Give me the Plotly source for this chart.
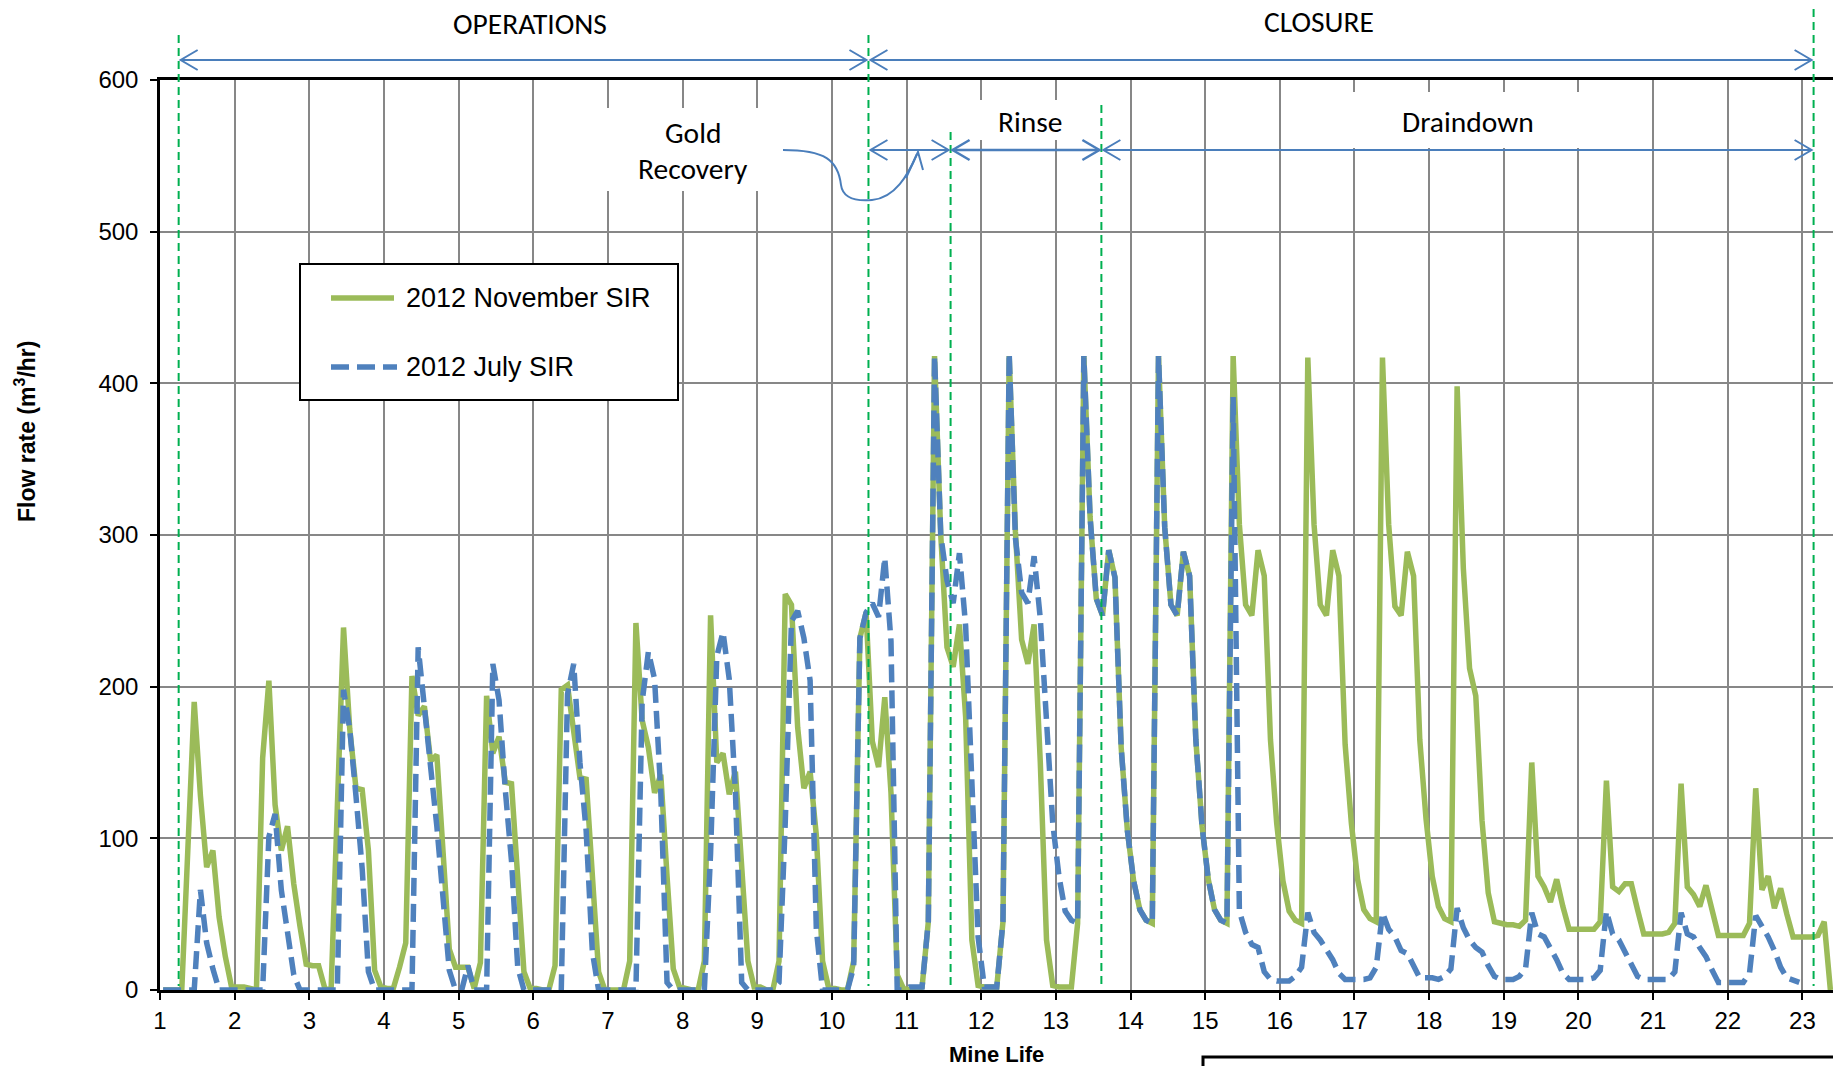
import plotly.graph_objects as go

# ---------------- data (monthly flow rate, m3/hr) ----------------
year_ticks = list(range(1, 24))
month_offsets = [(m - 0.5) / 12 for m in range(1, 13)]

# 2012 November SIR (one row per mine-life year, months 1..12)
nov_sir_flow = [
    0, 0, 0, 0, 95, 190, 128, 81, 92, 48, 22, 2,          # yr 1
    2, 2, 1, 0, 153, 204, 122, 92, 108, 70, 42, 17,       # yr 2
    16, 16, 1, 0, 120, 239, 172, 133, 132, 92, 13, 2,     # yr 3
    1, 1, 15, 31, 207, 181, 187, 151, 155, 91, 27, 15,    # yr 4
    15, 15, 1, 18, 194, 156, 167, 137, 136, 80, 12, 1,    # yr 5
    1, 0, 0, 16, 198, 201, 170, 140, 139, 73, 12, 0,      # yr 6
    0, 0, 0, 19, 242, 178, 160, 130, 142, 75, 14, 2,      # yr 7
    1, 0, 0, 19, 247, 150, 156, 129, 144, 76, 19, 2,      # yr 8
    2, 0, 0, 19, 261, 254, 173, 133, 144, 102, 19, 1,     # yr 9
    1, 0, 0, 19, 232, 249, 164, 147, 193, 130, 10, 1,     # yr 10
    0, 0, 2, 45, 418, 300, 226, 213, 241, 180, 33, 3,     # yr 11
    2, 2, 2, 45, 418, 302, 231, 215, 241, 150, 33, 3,     # yr 12
    2, 2, 2, 44, 418, 312, 258, 247, 290, 272, 160, 105,  # yr 13
    72, 53, 46, 44, 418, 305, 254, 247, 289, 273, 165, 108,  # yr 14
    73, 53, 46, 44, 418, 307, 254, 247, 290, 273, 165, 110,  # yr 15
    72, 52, 46, 44, 417, 307, 254, 247, 290, 273, 162, 110,  # yr 16
    73, 53, 47, 45, 417, 307, 253, 247, 289, 273, 165, 113,  # yr 17
    75, 55, 47, 45, 398, 278, 212, 194, 112, 64, 45, 44,  # yr 18
    43, 43, 42, 46, 150, 75, 68, 58, 73, 55, 40, 40,      # yr 19
    40, 40, 40, 45, 138, 68, 65, 70, 70, 53, 37, 37,      # yr 20
    37, 37, 38, 44, 136, 68, 63, 55, 69, 53, 36, 36,      # yr 21
    36, 36, 36, 44, 133, 66, 75, 54, 67, 50, 35, 35,      # yr 22
    35, 35, 36, 45, 0,                                    # yr 23
]

# 2012 July SIR
jul_sir_flow = [
    0, 0, 0, 0, 0, 0, 66, 31, 14, 0, 0, 0,                # yr 1
    0, 0, 0, 0, 0, 101, 116, 66, 40, 10, 0, 0,            # yr 2
    0, 0, 0, 0, 0, 198, 172, 128, 80, 12, 0, 0,           # yr 3
    0, 0, 0, 0, 0, 226, 190, 147, 108, 59, 13, 0,         # yr 4
    0, 16, 0, 0, 0, 215, 191, 132, 85, 15, 0, 0,          # yr 5
    0, 0, 0, 0, 0, 195, 215, 150, 105, 25, 0, 0,          # yr 6
    0, 0, 0, 0, 0, 190, 223, 205, 130, 5, 0, 0,           # yr 7
    0, 0, 0, 0, 90, 220, 236, 205, 130, 5, 0, 0,          # yr 8
    0, 0, 0, 5, 110, 243, 250, 232, 204, 40, 0, 0,        # yr 9
    0, 0, 0, 15, 232, 249, 255, 246, 285, 230, 0, 0,      # yr 10
    2, 2, 2, 45, 418, 300, 270, 255, 288, 240, 127, 35,   # yr 11
    2, 2, 2, 45, 420, 298, 262, 255, 286, 245, 175, 110,  # yr 12
    75, 52, 46, 44, 418, 312, 258, 247, 290, 272, 160, 105,  # yr 13
    72, 53, 46, 44, 418, 305, 254, 247, 289, 273, 165, 108,  # yr 14
    73, 53, 46, 44, 391, 52, 38, 30, 28, 12, 7, 6,        # yr 15
    6, 6, 9, 15, 51, 38, 33, 27, 20, 11, 7, 7,            # yr 16
    7, 7, 8, 15, 51, 40, 35, 26, 24, 15, 8, 8,            # yr 17
    8, 7, 9, 14, 54, 41, 33, 28, 25, 16, 9, 7,            # yr 18
    7, 7, 9, 14, 51, 37, 35, 28, 20, 11, 7, 7,            # yr 19
    7, 7, 8, 13, 52, 37, 33, 24, 17, 9, 7, 7,             # yr 20
    7, 7, 7, 12, 51, 37, 35, 28, 22, 13, 5, 5,            # yr 21
    5, 5, 5, 11, 49, 42, 35, 26, 15, 8, 6, 5,             # yr 22
]

series_names = ["2012 November SIR", "2012 July SIR"]
y_ticks = [0, 100, 200, 300, 400, 500, 600]

# phase boundaries (mine-life years)
phase_bounds = [1.25, 10.49, 11.59, 13.61, 23.15]
phase_top_px = [35, 35, 132, 105, 9]

GREEN = "#9BBB59"
BLUE = "#4F81BD"
ARROW = "#4A7EBB"
PHASE_GREEN = "#00B050"
LINE_W = 5.5
DASH = "18px,8px"

# ---------------- geometry helpers ----------------
W, H = 1833, 1066
L, R, T, B = 160, 0, 80, 76
PW, PH = W - L - R, H - T - B
X0, X1 = 1.0, 23.41


def px(x):
    return (x - L) / PW


def py(y):
    return (H - B - y) / PH


def yr_px(v):
    return L + (v - X0) / (X1 - X0) * PW


time_grid = [y + o for y in year_ticks for o in month_offsets]
x_nov = time_grid[:len(nov_sir_flow)]
x_jul = time_grid[:len(jul_sir_flow)]

fig = go.Figure()
fig.add_trace(go.Scatter(x=x_nov, y=nov_sir_flow, mode="lines", name=series_names[0],
                         line=dict(color=GREEN, width=LINE_W), showlegend=False))
fig.add_trace(go.Scatter(x=x_jul, y=jul_sir_flow, mode="lines", name=series_names[1],
                         line=dict(color=BLUE, width=LINE_W, dash=DASH), showlegend=False))

shapes = []
annotations = []

# white label boxes (cover gridlines)
for (x0, y0, x1, y1) in [(600, 108, 765, 191), (960, 100, 1090, 140), (1300, 92, 1640, 148)]:
    shapes.append(dict(type="rect", xref="paper", yref="paper", x0=px(x0), x1=px(x1),
                       y0=py(y1), y1=py(y0), fillcolor="white", line=dict(width=0), layer="above"))

# phase boundary lines
for b, top in zip(phase_bounds, phase_top_px):
    xx = px(yr_px(b))
    shapes.append(dict(type="line", xref="paper", yref="paper", x0=xx, x1=xx, y0=py(top), y1=py(986),
                       line=dict(color=PHASE_GREEN, width=2, dash="8px,5px"), layer="above"))


def dbl_arrow(a, b, ypix, width=2):
    xa = yr_px(a) + 2
    xb = yr_px(b) - 2
    shapes.append(dict(type="line", xref="paper", yref="paper", x0=px(xa), x1=px(xb),
                       y0=py(ypix), y1=py(ypix), line=dict(color=ARROW, width=width), layer="above"))
    for tip, d in ((xa, 1), (xb, -1)):
        path = "M {},{} L {},{} L {},{}".format(px(tip + 17 * d), py(ypix - 10), px(tip), py(ypix),
                                               px(tip + 17 * d), py(ypix + 10))
        shapes.append(dict(type="path", xref="paper", yref="paper", path=path,
                           line=dict(color=ARROW, width=width), layer="above"))


dbl_arrow(phase_bounds[0], phase_bounds[1], 60)
dbl_arrow(phase_bounds[1], phase_bounds[4], 60)
dbl_arrow(phase_bounds[1], phase_bounds[2], 150)
dbl_arrow(phase_bounds[2], phase_bounds[3], 150, width=2.5)
dbl_arrow(phase_bounds[3], phase_bounds[4], 150)

# curved callout arrow from "Gold Recovery"
pts = [(783, 150), (825, 150), (838, 160), (841, 185), (843, 200), (860, 201), (872, 200),
       (895, 198), (908, 175), (917, 154)]
p = ["{},{}".format(px(a), py(b)) for a, b in pts]
curve = "M {} C {} {} {} C {} {} {} C {} {} {}".format(*p)
shapes.append(dict(type="path", xref="paper", yref="paper", path=curve,
                   line=dict(color=ARROW, width=2), layer="above"))
head = "M {},{} L {},{} L {},{}".format(px(906), py(178), px(918), py(152), px(923), py(170))
shapes.append(dict(type="path", xref="paper", yref="paper", path=head,
                   line=dict(color=ARROW, width=2), layer="above"))

# custom legend box
shapes.append(dict(type="rect", xref="paper", yref="paper", x0=px(300), x1=px(678), y0=py(400), y1=py(264),
                   fillcolor="white", line=dict(color="black", width=2), layer="above"))
shapes.append(dict(type="line", xref="paper", yref="paper", x0=px(331), x1=px(394), y0=py(298), y1=py(298),
                   line=dict(color=GREEN, width=LINE_W), layer="above"))
shapes.append(dict(type="line", xref="paper", yref="paper", x0=px(331), x1=px(397), y0=py(367), y1=py(367),
                   line=dict(color=BLUE, width=LINE_W, dash=DASH), layer="above"))

# bottom-right partial box
shapes.append(dict(type="rect", xref="paper", yref="paper", x0=px(1203), x1=px(1850), y0=py(1090), y1=py(1057),
                   fillcolor="white", line=dict(color="black", width=3), layer="above"))

CAL = "Calibri, Carlito, Lato, sans-serif"
ARIAL = "Arial, Liberation Sans, sans-serif"


def label(text, x, y, size=29.5, family=CAL, xanchor="center", bold=False, angle=0):
    annotations.append(dict(text=("<b>%s</b>" % text) if bold else text, xref="paper", yref="paper",
                            x=px(x), y=py(y), xanchor=xanchor, yanchor="middle", showarrow=False,
                            textangle=angle, font=dict(family=family, size=size, color="black")))


label("OPERATIONS", 530, 24)
label("CLOSURE", 1319, 22)
label("Gold", 693, 133)
label("Recovery", 693, 169)
label("Rinse", 1030, 122)
label("Draindown", 1468, 122)
label(series_names[0], 404, 298, size=27, family=ARIAL, xanchor="left")
label(series_names[1], 404, 367, size=27, family=ARIAL, xanchor="left")
label("Flow rate (m<sup>3</sup>/hr)", 25, 432, size=23, family=ARIAL, bold=True, angle=-90)
label("Mine Life", 996, 1054, size=22, family=ARIAL, bold=True)

fig.update_layout(
    width=W, height=H,
    margin=dict(l=L, r=R, t=T, b=B, autoexpand=False),
    paper_bgcolor="white", plot_bgcolor="white",
    shapes=shapes, annotations=annotations,
    font=dict(family=ARIAL, size=24, color="black"),
    showlegend=False,
)
fig.update_xaxes(range=[X0, X1], tickmode="array", tickvals=year_ticks, ticktext=[str(v) for v in year_ticks],
                 showgrid=True, gridcolor="#878787", gridwidth=1.8, zeroline=False,
                 showline=True, linecolor="black", linewidth=2.5, mirror=True,
                 ticks="outside", ticklen=7, tickwidth=2, tickcolor="black",
                 tickfont=dict(family=ARIAL, size=24, color="black"))
fig.update_yaxes(range=[0, 600], tickmode="array", tickvals=y_ticks, ticktext=[str(v) for v in y_ticks],
                 showgrid=True, gridcolor="#878787", gridwidth=1.8, zeroline=False,
                 showline=True, linecolor="black", linewidth=2.5,
                 ticks="outside", ticklen=7, tickwidth=2, tickcolor="black", ticklabelstandoff=7,
                 tickfont=dict(family=ARIAL, size=24, color="black"))

fig.write_html("out.html", config={"displayModeBar": False},
               post_script="document.body.style.margin='0';document.body.style.overflow='hidden';")
